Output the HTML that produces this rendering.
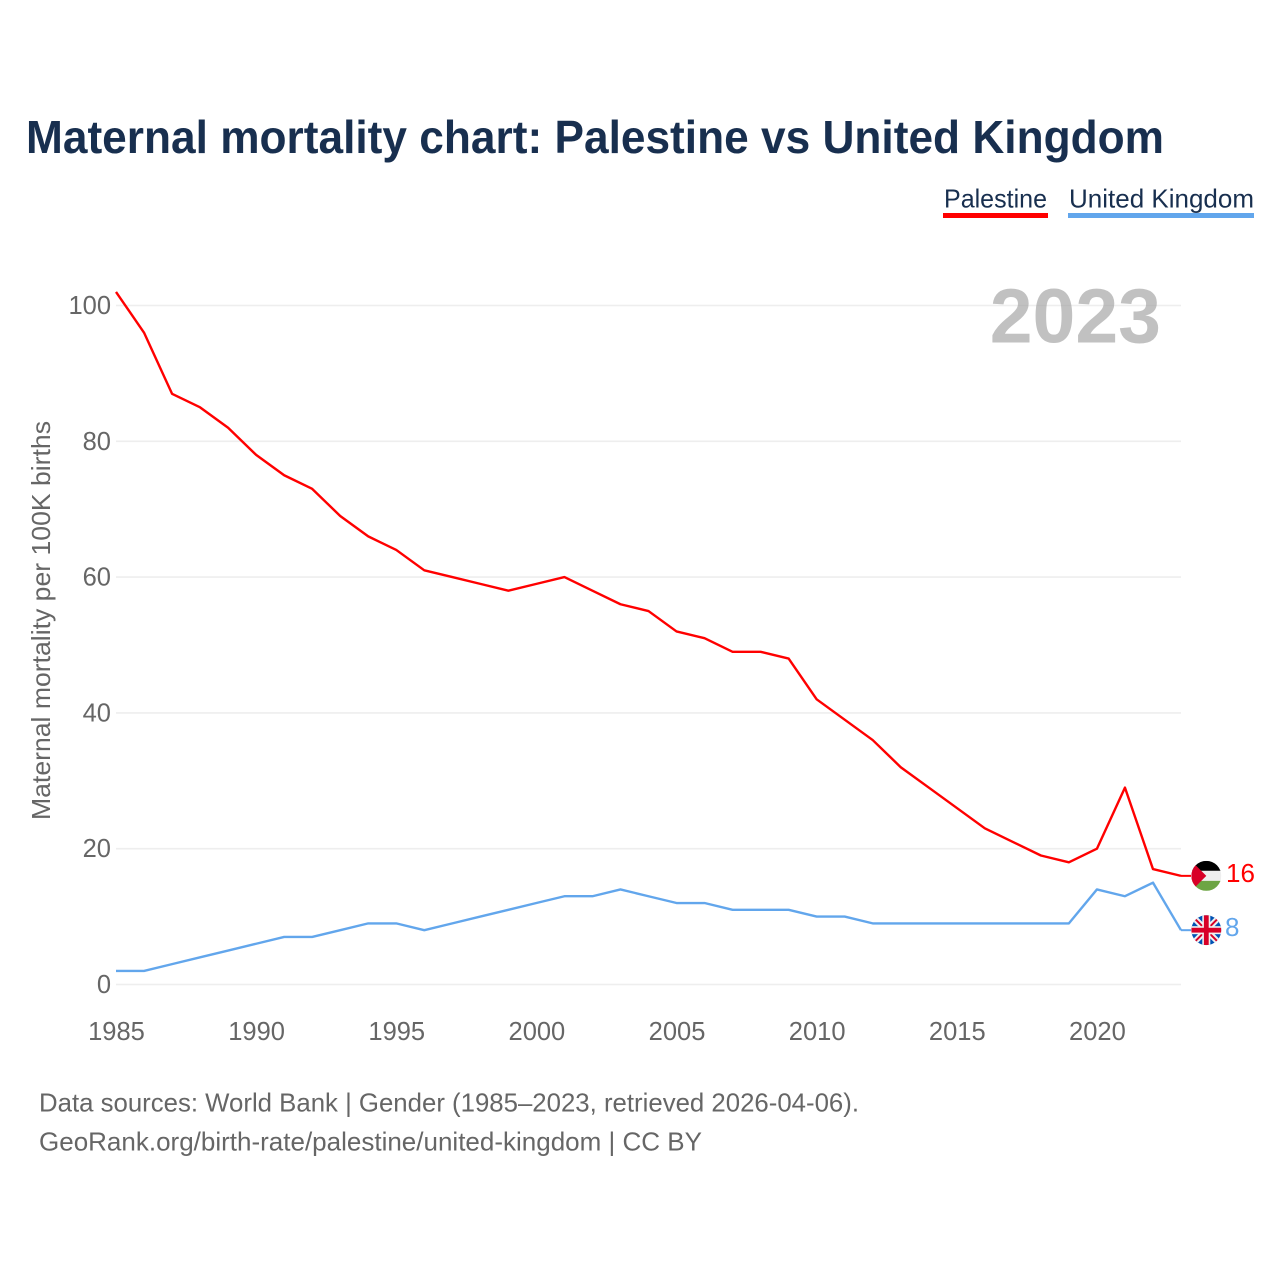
<!DOCTYPE html>
<html lang="en">
<head>
<meta charset="utf-8">
<title>Maternal mortality chart: Palestine vs United Kingdom</title>
<style>
html,body{margin:0;padding:0;background:#fff;width:1280px;height:1280px;overflow:hidden}
svg{display:block}
text{font-family:"Liberation Sans",sans-serif}
</style>
</head>
<body>
<svg id="chart" xmlns="http://www.w3.org/2000/svg" width="1280" height="1280" viewBox="0 0 1280 1280">
  <rect width="1280" height="1280" fill="#fff"/>
  <defs>
    <clipPath id="clip-ps"><circle id="clip-ps-circle" r="15"/></clipPath>
    <clipPath id="clip-uk"><circle id="clip-uk-circle" r="15"/></clipPath>
  </defs>
  <text x="26" y="153" font-size="46" font-weight="700" fill="#182f4f" textLength="1138" lengthAdjust="spacingAndGlyphs">Maternal mortality chart: Palestine vs United Kingdom</text>

  <g>
    <g>
      <text x="944" y="207.5" font-size="26" fill="#182f4f" textLength="103" lengthAdjust="spacingAndGlyphs">Palestine</text>
      <rect x="943" y="213" width="105" height="5" fill="#ff0000"/>
    </g>
    <g>
      <text x="1069" y="207.5" font-size="26" fill="#182f4f" textLength="185" lengthAdjust="spacingAndGlyphs">United Kingdom</text>
      <rect x="1068" y="213" width="186" height="5" fill="#62a6ec"/>
    </g>
  </g>

  <g id="grid"></g>
  <text x="1161" y="342.5" text-anchor="end" font-size="77" font-weight="700" fill="#a0a0a0" fill-opacity="0.65">2023</text>
  <g id="y-ticks"></g>
  <g id="x-ticks"></g>
  <text transform="translate(50,820) rotate(-90)" font-size="26" fill="#666" textLength="399" lengthAdjust="spacingAndGlyphs">Maternal mortality per 100K births</text>

  <path id="line-palestine" fill="none" stroke="#ff0000" stroke-width="2.4" stroke-linejoin="round"/>
  <path id="line-uk" fill="none" stroke="#62a6ec" stroke-width="2.4" stroke-linejoin="round"/>
  <path id="lead-palestine" fill="none" stroke="#ff0000" stroke-width="2"/>
  <path id="lead-uk" fill="none" stroke="#62a6ec" stroke-width="2"/>

  <g id="flag-palestine">
    <g clip-path="url(#clip-ps)">
      <rect x="-15" y="-15" width="30" height="10" fill="#000"/>
      <rect x="-15" y="-5" width="30" height="10" fill="#eeeeee"/>
      <rect x="-15" y="5" width="30" height="10" fill="#6da544"/>
      <polygon points="-15,-15 0,0 -15,15" fill="#d80027"/>
    </g>
  </g>
  <g id="flag-uk">
    <g clip-path="url(#clip-uk)">
      <rect x="-15" y="-15" width="30" height="30" fill="#0052b4"/>
      <path d="M-15,-15L15,15M15,-15L-15,15" stroke="#f0f0f0" stroke-width="6"/>
      <path d="M-15,-15L15,15M15,-15L-15,15" stroke="#d80027" stroke-width="2"/>
      <rect x="-15" y="-4" width="30" height="8" fill="#f0f0f0"/>
      <rect x="-4" y="-15" width="8" height="30" fill="#f0f0f0"/>
      <rect x="-15" y="-2.4" width="30" height="4.8" fill="#d80027"/>
      <rect x="-2.4" y="-15" width="4.8" height="30" fill="#d80027"/>
    </g>
  </g>
  <text id="value-palestine" font-size="26" fill="#ff0000"></text>
  <text id="value-uk" font-size="26" fill="#62a6ec"></text>

  <g>
    <text x="39" y="1111.5" font-size="26" fill="#666" textLength="820" lengthAdjust="spacingAndGlyphs">Data sources: World Bank | Gender (1985–2023, retrieved 2026-04-06).</text>
    <text x="39" y="1150.5" font-size="26" fill="#666" textLength="663" lengthAdjust="spacingAndGlyphs">GeoRank.org/birth-rate/palestine/united-kingdom | CC BY</text>
  </g>
</svg>
<script>
const years = [1985,1986,1987,1988,1989,1990,1991,1992,1993,1994,1995,1996,1997,1998,1999,2000,2001,2002,2003,2004,2005,2006,2007,2008,2009,2010,2011,2012,2013,2014,2015,2016,2017,2018,2019,2020,2021,2022,2023];
const palestineValues = [102,96,87,85,82,78,75,73,69,66,64,61,60,59,58,59,60,58,56,55,52,51,49,49,48,42,39,36,32,29,26,23,21,19,18,20,29,17,16];
const ukValues = [2,2,3,4,5,6,7,7,8,9,9,8,9,10,11,12,13,13,14,13,12,12,11,11,11,10,10,9,9,9,9,9,9,9,9,14,13,15,8];
const yTickValues = [0,20,40,60,80,100];
const xTickValues = [1985,1990,1995,2000,2005,2010,2015,2020];

const NS = 'http://www.w3.org/2000/svg';
function xScale(year){ return 116 + (year - 1985) * (1181 - 116) / (2023 - 1985); }
function yScale(v){ return 984.5 - v * (984.5 - 305.5) / 100; }
function make(tag, attrs, parent){
  const el = document.createElementNS(NS, tag);
  for (const k in attrs) el.setAttribute(k, attrs[k]);
  parent.appendChild(el);
  return el;
}
function linePath(vals){
  return vals.map(function(v,i){ return (i ? 'L' : 'M') + xScale(years[i]).toFixed(2) + ',' + yScale(v).toFixed(2); }).join('');
}

const grid = document.getElementById('grid');
const yTicks = document.getElementById('y-ticks');
const xTicks = document.getElementById('x-ticks');
yTickValues.forEach(function(v){
  const g = make('line', {x1:116, x2:1181, y1:yScale(v), y2:yScale(v), stroke:'#eeeeee', 'stroke-width':1.6}, grid);
  
  
  const t = make('text', {x:111, y:yScale(v)+8.5, 'text-anchor':'end', 'font-size':25.5, fill:'#666'}, yTicks);
  
  
  t.textContent = v;
});
xTickValues.forEach(function(y){
  const t = make('text', {x:xScale(y)+0.5, y:1040, 'text-anchor':'middle', 'font-size':25.5, fill:'#666'}, xTicks);
  
  
  t.textContent = y;
});

document.getElementById('line-palestine').setAttribute('d', linePath(palestineValues));
document.getElementById('line-uk').setAttribute('d', linePath(ukValues));

function endMarker(vals, key, clipId, labelX){
  const last = vals[vals.length - 1];
  const py = yScale(last);
  document.getElementById('lead-' + key).setAttribute('d', 'M1181,' + py + 'L1191,' + py);
  document.getElementById('flag-' + key).setAttribute('transform', 'translate(1206.3,' + py + ')');
  const c = document.getElementById(clipId);
  c.setAttribute('cx', 0);
  c.setAttribute('cy', 0);
  const t = document.getElementById('value-' + key);
  t.setAttribute('x', labelX);
  t.setAttribute('y', py + 6);
  t.textContent = last;
}
endMarker(palestineValues, 'palestine', 'clip-ps-circle', 1226);
endMarker(ukValues, 'uk', 'clip-uk-circle', 1225);
</script>
</body>
</html>
